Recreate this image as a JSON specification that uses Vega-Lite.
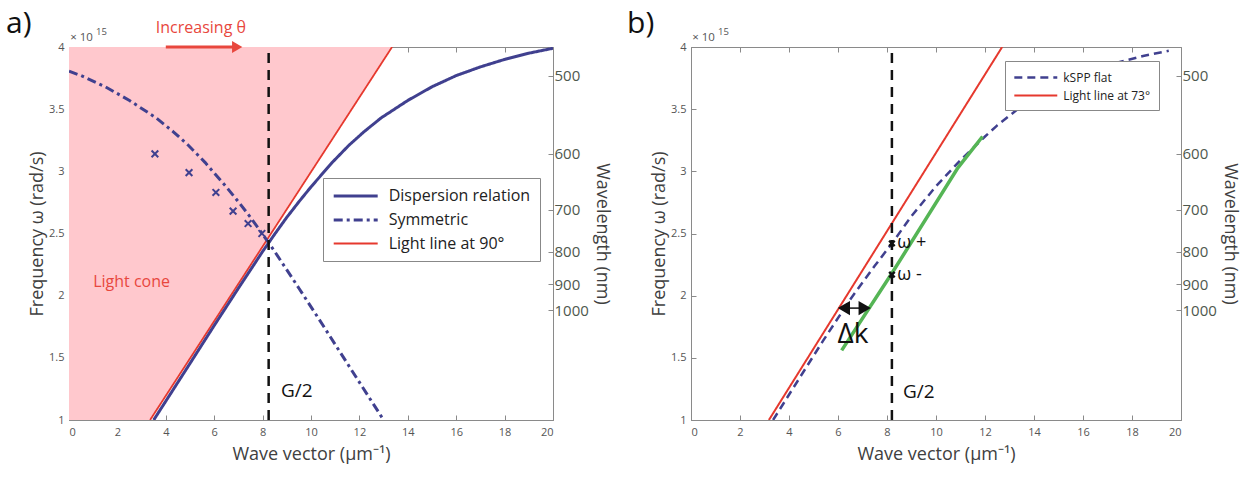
{
  "$schema": "https://vega.github.io/schema/vega-lite/v6.json",
  "background": "white",
  "padding": {"left": 5, "top": 8, "right": 2, "bottom": 0},
  "spacing": 15,
  "config": {
    "font": "Open Sans",
    "view": {"stroke": "#8a8a8a", "strokeWidth": 1},
    "axis": {"grid": false, "domainColor": "#8a8a8a", "tickColor": "#8a8a8a", "labelColor": "#555555", "titleColor": "#404040", "titleFontWeight": "normal", "labelFont": "Open Sans", "titleFont": "Open Sans"},
    "legend": {"labelFont": "Open Sans"}
  },
  "resolve": {"scale": {"color": "independent", "strokeDash": "independent", "strokeWidth": "independent"}},
  "hconcat": [
    {
      "width": 484,
      "height": 373,
      "resolve": {"scale": {"y": "independent", "x": "independent"}},
      "encoding": {
        "x": {"field": "k", "type": "quantitative", "scale": {"domain": [0, 20], "nice": false, "zero": false}, "axis": null},
        "y": {"field": "w", "type": "quantitative", "scale": {"domain": [1, 4], "nice": false, "zero": false}, "axis": null}
      },
      "layer": [
        {
          "data": {"values": [{"k": 0, "w": 0, "w2": 4}, {"k": 13.35, "w": 4, "w2": 4}]},
          "mark": {"type": "area", "color": "#ffc8cd", "clip": true},
          "encoding": {
            "x": {"field": "k", "type": "quantitative", "scale": {"domain": [0, 20], "nice": false, "zero": false},
              "axis": {"orient": "bottom", "values": [0, 2, 4, 6, 8, 10, 12, 14, 16, 18, 20], "title": "Wave vector (μm⁻¹)", "titleFontSize": 18, "labelFontSize": 11, "tickSize": -5, "labelPadding": 11, "titlePadding": 8}},
            "y": {"field": "w", "type": "quantitative", "scale": {"domain": [1, 4], "nice": false, "zero": false},
              "axis": {"orient": "left", "values": [1, 1.5, 2, 2.5, 3, 3.5, 4], "format": "~g", "title": "Frequency  ω (rad/s)", "titleFontSize": 18, "labelFontSize": 11, "tickSize": -5, "labelPadding": 10, "titlePadding": 2}},
            "y2": {"field": "w2"}
          }
        },
        {
          "data": {"values": [
            {"s": "Light line at 90°", "k": 3.35, "w": 1.0},
            {"s": "Light line at 90°", "k": 13.35, "w": 4.0},
            {"s": "Dispersion relation", "k": 3.5, "w": 1.0},
            {"s": "Dispersion relation", "k": 5, "w": 1.455},
            {"s": "Dispersion relation", "k": 6, "w": 1.76},
            {"s": "Dispersion relation", "k": 7, "w": 2.06},
            {"s": "Dispersion relation", "k": 8, "w": 2.355},
            {"s": "Dispersion relation", "k": 8.5, "w": 2.495},
            {"s": "Dispersion relation", "k": 9, "w": 2.63},
            {"s": "Dispersion relation", "k": 9.5, "w": 2.755},
            {"s": "Dispersion relation", "k": 10, "w": 2.875},
            {"s": "Dispersion relation", "k": 10.87, "w": 3.07},
            {"s": "Dispersion relation", "k": 11.57, "w": 3.21},
            {"s": "Dispersion relation", "k": 12.2, "w": 3.32},
            {"s": "Dispersion relation", "k": 12.9, "w": 3.43},
            {"s": "Dispersion relation", "k": 14, "w": 3.57},
            {"s": "Dispersion relation", "k": 15, "w": 3.68},
            {"s": "Dispersion relation", "k": 16, "w": 3.77},
            {"s": "Dispersion relation", "k": 17, "w": 3.84},
            {"s": "Dispersion relation", "k": 18, "w": 3.9},
            {"s": "Dispersion relation", "k": 19, "w": 3.95},
            {"s": "Dispersion relation", "k": 20, "w": 3.99},
            {"s": "Symmetric", "k": 0, "w": 3.805},
            {"s": "Symmetric", "k": 0.5, "w": 3.77},
            {"s": "Symmetric", "k": 1.5, "w": 3.68},
            {"s": "Symmetric", "k": 2.5, "w": 3.57},
            {"s": "Symmetric", "k": 3.6, "w": 3.43},
            {"s": "Symmetric", "k": 4.3, "w": 3.32},
            {"s": "Symmetric", "k": 4.93, "w": 3.21},
            {"s": "Symmetric", "k": 5.63, "w": 3.07},
            {"s": "Symmetric", "k": 6.5, "w": 2.875},
            {"s": "Symmetric", "k": 7, "w": 2.755},
            {"s": "Symmetric", "k": 7.5, "w": 2.63},
            {"s": "Symmetric", "k": 8, "w": 2.495},
            {"s": "Symmetric", "k": 8.5, "w": 2.355},
            {"s": "Symmetric", "k": 9.5, "w": 2.06},
            {"s": "Symmetric", "k": 10.5, "w": 1.76},
            {"s": "Symmetric", "k": 11.5, "w": 1.455},
            {"s": "Symmetric", "k": 13.0, "w": 1.0}
          ]},
          "mark": {"type": "line", "clip": true},
          "encoding": {
            "color": {"field": "s", "type": "nominal",
              "scale": {"domain": ["Dispersion relation", "Symmetric", "Light line at 90°"], "range": ["#40408f", "#40408f", "#e6392e"]},
              "legend": {"title": null, "orient": "none", "legendX": 254, "legendY": 131, "symbolType": "M-3,0H3", "symbolSize": 215, "symbolOffset": 14.7, "labelOffset": 24, "labelFontSize": 16, "labelColor": "#222222", "strokeColor": "#888888", "fillColor": "white", "padding": 9, "rowPadding": 7}},
            "strokeDash": {"field": "s", "type": "nominal",
              "scale": {"domain": ["Dispersion relation", "Symmetric", "Light line at 90°"], "range": [[1, 0], [9, 4, 3, 4], [1, 0]]},
              "legend": {"title": null, "orient": "none", "legendX": 254, "legendY": 131, "symbolType": "M-3,0H3", "symbolSize": 215, "symbolOffset": 14.7, "labelOffset": 24, "labelFontSize": 16, "labelColor": "#222222", "strokeColor": "#888888", "fillColor": "white", "padding": 9, "rowPadding": 7}},
            "strokeWidth": {"field": "s", "type": "nominal",
              "scale": {"type": "ordinal", "domain": ["Dispersion relation", "Symmetric", "Light line at 90°"], "range": [3, 3, 1.8]},
              "legend": {"title": null, "orient": "none", "legendX": 254, "legendY": 131, "symbolType": "M-3,0H3", "symbolSize": 215, "symbolOffset": 14.7, "labelOffset": 24, "labelFontSize": 16, "labelColor": "#222222", "strokeColor": "#888888", "fillColor": "white", "padding": 9, "rowPadding": 7}}
          }
        },
        {
          "data": {"values": [{"k": 3.55, "w": 3.14}, {"k": 4.96, "w": 2.99}, {"k": 6.07, "w": 2.83}, {"k": 6.78, "w": 2.68}, {"k": 7.4, "w": 2.58}, {"k": 7.97, "w": 2.5}]},
          "mark": {"type": "point", "shape": "M-1,-1L1,1M-1,1L1,-1", "filled": false, "color": "#40408f", "strokeWidth": 2, "size": 45, "opacity": 1}
        },
        {
          "data": {"values": [{"k": 8.25, "w": 1, "w2": 4}]},
          "mark": {"type": "rule", "color": "#111111", "strokeDash": [10, 7], "strokeWidth": 2.5},
          "encoding": {
            "x": {"field": "k", "type": "quantitative", "scale": {"domain": [0, 20], "nice": false, "zero": false},
              "axis": {"orient": "top", "values": [0, 2, 4, 6, 8, 10, 12, 14, 16, 18, 20], "labels": false, "title": null, "tickSize": -5, "domain": false}},
            "y": {"field": "w", "type": "quantitative", "scale": {"domain": [1, 4], "nice": false, "zero": false},
              "axis": {"orient": "right", "values": [3.7673, 3.13942, 2.69093, 2.35456, 2.09294, 1.88365], "labelExpr": "round(1883.65/datum.value)", "title": "Wavelength (nm)", "titleFontSize": 18, "labelFontSize": 15, "labelColor": "#4e584e", "tickSize": -5, "labelPadding": 6, "titlePadding": 4}},
            "y2": {"field": "w2"}
          }
        },
        {
          "data": {"values": [{"k": 4.0, "k2": 6.8, "w": 4.0}]},
          "mark": {"type": "rule", "color": "#e8473d", "strokeWidth": 3},
          "encoding": {"x2": {"field": "k2"}}
        },
        {
          "data": {"values": [{"k": 6.95, "w": 4.0}]},
          "mark": {"type": "point", "shape": "triangle-right", "filled": true, "color": "#e8473d", "size": 140, "opacity": 1}
        },
        {
          "data": {"values": [{"k": 8.76, "w": 1.23, "t": "G/2"}]},
          "mark": {"type": "text", "align": "left", "baseline": "middle", "fontSize": 19, "color": "#111111"},
          "encoding": {"text": {"field": "t"}}
        },
        {
          "data": {"values": [{"k": 1.0, "w": 2.11, "t": "Light cone"}]},
          "mark": {"type": "text", "align": "left", "baseline": "middle", "fontSize": 16, "color": "#e8473d"},
          "encoding": {"text": {"field": "t"}}
        },
        {
          "data": {"values": [{"k": 5.45, "w": 4.113, "t": "Increasing θ"}]},
          "mark": {"type": "text", "align": "center", "baseline": "alphabetic", "fontSize": 16, "color": "#e8473d"},
          "encoding": {"text": {"field": "t"}}
        },
        {
          "data": {"values": [{"k": -2.6, "w": 4.113, "t": "a)"}]},
          "mark": {"type": "text", "align": "left", "baseline": "alphabetic", "fontSize": 30, "color": "#111111"},
          "encoding": {"text": {"field": "t"}}
        },
        {
          "data": {"values": [{"k": 0.05, "w": 4.07, "t": "× 10"}]},
          "mark": {"type": "text", "align": "left", "baseline": "middle", "fontSize": 11.5, "color": "#555555"},
          "encoding": {"text": {"field": "t"}}
        },
        {
          "data": {"values": [{"k": 1.12, "w": 4.12, "t": "15"}]},
          "mark": {"type": "text", "align": "left", "baseline": "middle", "fontSize": 9.5, "color": "#555555"},
          "encoding": {"text": {"field": "t"}}
        }
      ]
    },
    {
      "width": 490,
      "height": 373,
      "resolve": {"scale": {"y": "independent", "x": "independent"}},
      "encoding": {
        "x": {"field": "k", "type": "quantitative", "scale": {"domain": [0, 20], "nice": false, "zero": false}, "axis": null},
        "y": {"field": "w", "type": "quantitative", "scale": {"domain": [1, 4], "nice": false, "zero": false}, "axis": null}
      },
      "layer": [
        {
          "data": {"values": [
            {"s": "kSPP flat", "k": 3.35, "w": 1.0},
            {"s": "kSPP flat", "k": 4.5, "w": 1.36},
            {"s": "kSPP flat", "k": 5.4, "w": 1.64},
            {"s": "kSPP flat", "k": 6.5, "w": 1.97},
            {"s": "kSPP flat", "k": 7.5, "w": 2.24},
            {"s": "kSPP flat", "k": 8.2, "w": 2.42},
            {"s": "kSPP flat", "k": 9, "w": 2.64},
            {"s": "kSPP flat", "k": 10, "w": 2.88},
            {"s": "kSPP flat", "k": 11, "w": 3.09},
            {"s": "kSPP flat", "k": 12, "w": 3.28},
            {"s": "kSPP flat", "k": 12.5, "w": 3.37},
            {"s": "kSPP flat", "k": 13.4, "w": 3.51},
            {"s": "kSPP flat", "k": 14.5, "w": 3.65},
            {"s": "kSPP flat", "k": 15.5, "w": 3.75},
            {"s": "kSPP flat", "k": 16.5, "w": 3.82},
            {"s": "kSPP flat", "k": 17.5, "w": 3.88},
            {"s": "kSPP flat", "k": 18.5, "w": 3.93},
            {"s": "kSPP flat", "k": 19.5, "w": 3.97},
            {"s": "Light line at 73°", "k": 3.18, "w": 1.0},
            {"s": "Light line at 73°", "k": 12.7, "w": 4.0}
          ]},
          "mark": {"type": "line", "clip": true},
          "encoding": {
            "x": {"field": "k", "type": "quantitative", "scale": {"domain": [0, 20], "nice": false, "zero": false},
              "axis": {"orient": "bottom", "values": [0, 2, 4, 6, 8, 10, 12, 14, 16, 18, 20], "title": "Wave vector (μm⁻¹)", "titleFontSize": 18, "labelFontSize": 11, "tickSize": -5, "labelPadding": 11, "titlePadding": 8}},
            "y": {"field": "w", "type": "quantitative", "scale": {"domain": [1, 4], "nice": false, "zero": false},
              "axis": {"orient": "left", "values": [1, 1.5, 2, 2.5, 3, 3.5, 4], "format": "~g", "title": "Frequency  ω (rad/s)", "titleFontSize": 18, "labelFontSize": 11, "tickSize": -5, "labelPadding": 10, "titlePadding": 2}},
            "color": {"field": "s", "type": "nominal",
              "scale": {"domain": ["kSPP flat", "Light line at 73°"], "range": ["#40408f", "#e6392e"]},
              "legend": {"title": null, "orient": "none", "legendX": 314, "legendY": 14, "symbolType": "M-3,0H3", "symbolSize": 205, "symbolOffset": 14.3, "labelOffset": 19, "labelFontSize": 12, "labelColor": "#222222", "strokeColor": "#888888", "fillColor": "white", "padding": 8, "rowPadding": 3}},
            "strokeDash": {"field": "s", "type": "nominal",
              "scale": {"domain": ["kSPP flat", "Light line at 73°"], "range": [[8, 5], [1, 0]]},
              "legend": {"title": null, "orient": "none", "legendX": 314, "legendY": 14, "symbolType": "M-3,0H3", "symbolSize": 205, "symbolOffset": 14.3, "labelOffset": 19, "labelFontSize": 12, "labelColor": "#222222", "strokeColor": "#888888", "fillColor": "white", "padding": 8, "rowPadding": 3}},
            "strokeWidth": {"field": "s", "type": "nominal",
              "scale": {"type": "ordinal", "domain": ["kSPP flat", "Light line at 73°"], "range": [2.5, 2]},
              "legend": {"title": null, "orient": "none", "legendX": 314, "legendY": 14, "symbolType": "M-3,0H3", "symbolSize": 205, "symbolOffset": 14.3, "labelOffset": 19, "labelFontSize": 12, "labelColor": "#222222", "strokeColor": "#888888", "fillColor": "white", "padding": 8, "rowPadding": 3}}
          }
        },
        {
          "data": {"values": [{"k": 6.15, "w": 1.56}, {"k": 8.2, "w": 2.18}, {"k": 10.9, "w": 3.03}, {"k": 11.9, "w": 3.28}]},
          "mark": {"type": "line", "color": "#55b555", "strokeWidth": 3.5}
        },
        {
          "data": {"values": [{"k": 8.2, "w": 1, "w2": 4}]},
          "mark": {"type": "rule", "color": "#111111", "strokeDash": [10, 7], "strokeWidth": 2.5},
          "encoding": {
            "x": {"field": "k", "type": "quantitative", "scale": {"domain": [0, 20], "nice": false, "zero": false},
              "axis": {"orient": "top", "values": [0, 2, 4, 6, 8, 10, 12, 14, 16, 18, 20], "labels": false, "title": null, "tickSize": -5, "domain": false}},
            "y": {"field": "w", "type": "quantitative", "scale": {"domain": [1, 4], "nice": false, "zero": false},
              "axis": {"orient": "right", "values": [3.7673, 3.13942, 2.69093, 2.35456, 2.09294, 1.88365], "labelExpr": "round(1883.65/datum.value)", "title": "Wavelength (nm)", "titleFontSize": 18, "labelFontSize": 15, "labelColor": "#4e584e", "tickSize": -5, "labelPadding": 6, "titlePadding": 4}},
            "y2": {"field": "w2"}
          }
        },
        {
          "data": {"values": [{"k": 8.2, "w": 2.42}, {"k": 8.2, "w": 2.17}]},
          "mark": {"type": "point", "shape": "M-1,-1L1,1M-1,1L1,-1", "filled": false, "color": "#111111", "strokeWidth": 2.5, "size": 30, "opacity": 1}
        },
        {
          "data": {"values": [{"k": 8.42, "w": 2.42, "t": "ω +"}, {"k": 8.42, "w": 2.17, "t": "ω -"}]},
          "mark": {"type": "text", "align": "left", "baseline": "middle", "fontSize": 18, "color": "#111111"},
          "encoding": {"text": {"field": "t"}}
        },
        {
          "data": {"values": [{"k": 8.65, "w": 1.225, "t": "G/2"}]},
          "mark": {"type": "text", "align": "left", "baseline": "middle", "fontSize": 19, "color": "#111111"},
          "encoding": {"text": {"field": "t"}}
        },
        {
          "data": {"values": [{"k": 6.61, "w": 1.62, "t": "Δk"}]},
          "mark": {"type": "text", "align": "center", "baseline": "alphabetic", "fontSize": 28, "color": "#111111"},
          "encoding": {"text": {"field": "t"}}
        },
        {
          "data": {"values": [{"k": 6.3, "k2": 7.05, "w": 1.9}]},
          "mark": {"type": "rule", "color": "#111111", "strokeWidth": 1.5},
          "encoding": {"x2": {"field": "k2"}}
        },
        {
          "data": {"values": [{"k": 6.24, "w": 1.9}]},
          "mark": {"type": "point", "shape": "triangle-left", "filled": true, "color": "#111111", "size": 200, "opacity": 1}
        },
        {
          "data": {"values": [{"k": 7.09, "w": 1.9}]},
          "mark": {"type": "point", "shape": "triangle-right", "filled": true, "color": "#111111", "size": 200, "opacity": 1}
        },
        {
          "data": {"values": [{"k": -2.61, "w": 4.113, "t": "b)"}]},
          "mark": {"type": "text", "align": "left", "baseline": "alphabetic", "fontSize": 30, "color": "#111111"},
          "encoding": {"text": {"field": "t"}}
        },
        {
          "data": {"values": [{"k": 0.05, "w": 4.07, "t": "× 10"}]},
          "mark": {"type": "text", "align": "left", "baseline": "middle", "fontSize": 11.5, "color": "#555555"},
          "encoding": {"text": {"field": "t"}}
        },
        {
          "data": {"values": [{"k": 1.1, "w": 4.12, "t": "15"}]},
          "mark": {"type": "text", "align": "left", "baseline": "middle", "fontSize": 9.5, "color": "#555555"},
          "encoding": {"text": {"field": "t"}}
        }
      ]
    }
  ]
}
